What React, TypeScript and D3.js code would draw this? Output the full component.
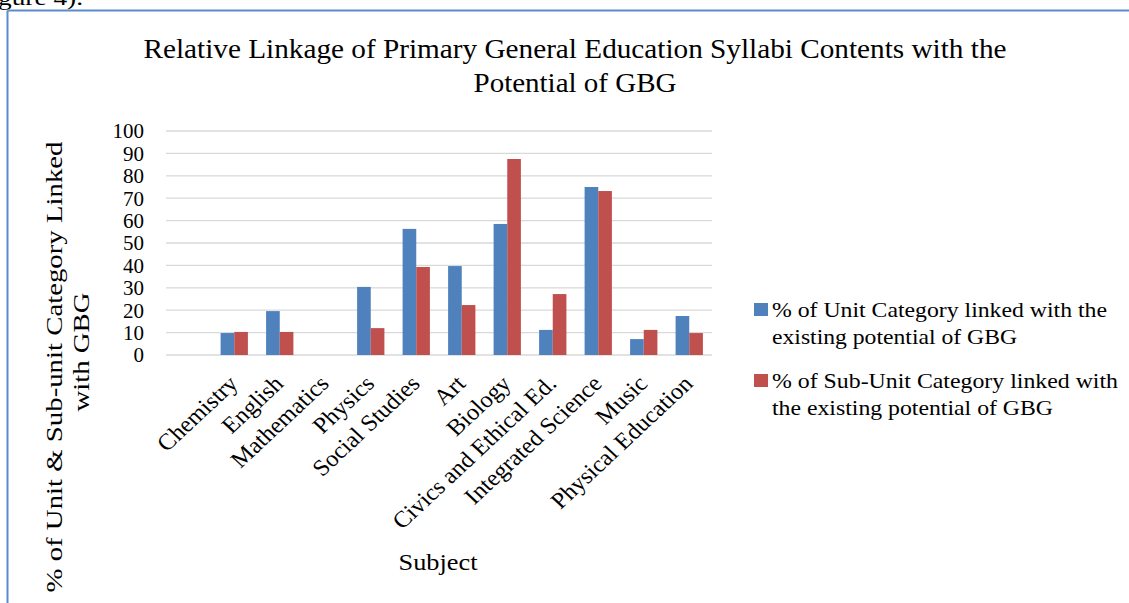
import React from "react";
import * as d3 from "d3";

const categories = ["", "Chemistry", "English", "Mathematics", "Physics", "Social Studies", "Art", "Biology", "Civics and Ethical Ed.", "Integrated Science", "Music", "Physical Education"];
const unitValues: (number | null)[] = [null, 9.8, 19.6, 0, 30.4, 56.3, 39.7, 58.5, 11.2, 75, 7.1, 17.4];
const subUnitValues: (number | null)[] = [null, 10.3, 10.3, 0, 12, 39.3, 22.3, 87.5, 27.2, 73.2, 11.2, 9.8];
const yTicks = [0, 10, 20, 30, 40, 50, 60, 70, 80, 90, 100];
const seriesNames = ["% of Unit Category linked with the|existing potential of GBG", "% of Sub-Unit Category linked with|the existing potential of GBG"];
const seriesColors = ["#4F81BD", "#C0504D"];
const titleLines = ["Relative Linkage of Primary General Education Syllabi Contents with the", "Potential of GBG"];
const yTitleLines = ["% of Unit & Sub-unit Category Linked", "with GBG"];

const W = 1129, H = 603;
const plotLeft = 166, plotRight = 712, plotTop = 131, plotBottom = 355;
const FONT = "'Liberation Serif', 'Times New Roman', serif";
const titleLens = [863, 203];
const yTitleLens = [451, 119];
const yTitleCenters = [367, 352];
const legendLens = [[335, 245], [346, 281]];

export default function App() {
  const x = d3.scaleBand<string>().domain(categories).range([plotLeft, plotRight]).paddingInner(0).paddingOuter(0);
  const y = d3.scaleLinear().domain([0, 100]).range([plotBottom, plotTop]);
  const bw = x.bandwidth();
  const groupW = bw * 0.6;
  const sub = d3.scaleBand<number>().domain([0, 1]).range([0, groupW]).padding(0);
  const series = [unitValues, subUnitValues];

  return (
    <svg width={W} height={H} style={{ position: "absolute", left: 0, top: 0, background: "#fff" }} fontFamily={FONT}>
      <rect x={0} y={0} width={W} height={H} fill="#fff" />
      <text x={-2} y={5} fontSize={22} fill="#000" textLength={85} lengthAdjust="spacingAndGlyphs">gure 4).</text>
      {/* frame */}
      <line x1={7.5} y1={10.5} x2={W} y2={10.5} stroke="#5B8BC9" strokeWidth={2} />
      <line x1={7.5} y1={10.5} x2={7.5} y2={H} stroke="#5B8BC9" strokeWidth={2} />

      {/* title */}
      {titleLines.map((t, i) => (
        <text key={i} x={575} y={58 + i * 34} textAnchor="middle" fontSize={27} fill="#000" textLength={titleLens[i]} lengthAdjust="spacingAndGlyphs">{t}</text>
      ))}

      {/* gridlines */}
      {yTicks.map(t => (
        <line key={t} x1={plotLeft} x2={plotRight} y1={y(t)} y2={y(t)} stroke="#D9D9D9" strokeWidth={1.3} />
      ))}
      {yTicks.map(t => (
        <text key={"l" + t} x={144} y={y(t)} dy="0.35em" textAnchor="end" fontSize={21} fill="#000">{t}</text>
      ))}

      {/* bars */}
      {categories.map((c, ci) => (
        <g key={ci}>
          {series.map((s, si) => {
            const v = s[ci];
            if (v === null || v === 0) return null;
            const bx = (x(c) as number) + (bw - groupW) / 2 + (sub(si) as number);
            return <rect key={si} x={bx} y={y(v)} width={sub.bandwidth()} height={y(0) - y(v)} fill={seriesColors[si]} />;
          })}
        </g>
      ))}

      {/* x labels */}
      {categories.map((c, ci) => {
        const cx = (x(c) as number) + bw / 2;
        return (
          <text key={"x" + ci} transform={`translate(${cx + 5},${plotBottom + 30}) scale(1.07,1) rotate(-45)`} textAnchor="end" fontSize={23} fill="#000">{c}</text>
        );
      })}

      <text x={438} y={570} textAnchor="middle" fontSize={23} fill="#000" textLength={79} lengthAdjust="spacingAndGlyphs">Subject</text>

      {/* y title */}
      {yTitleLines.map((t, i) => (
        <text key={i} transform={`translate(${62 + i * 27},${yTitleCenters[i]}) rotate(-90)`} textAnchor="middle" fontSize={24} fill="#000" textLength={yTitleLens[i]} lengthAdjust="spacingAndGlyphs">{t}</text>
      ))}

      {/* legend */}
      {seriesNames.map((n, i) => {
        const lines = n.split("|");
        const by = 317 + i * 71;
        return (
          <g key={i}>
            <rect x={754} y={by - 14} width={14} height={13} fill={seriesColors[i]} />
            {lines.map((l, li) => (
              <text key={li} x={772} y={by + li * 27} fontSize={21} fill="#000" textLength={legendLens[i][li]} lengthAdjust="spacingAndGlyphs">{l}</text>
            ))}
          </g>
        );
      })}
    </svg>
  );
}
